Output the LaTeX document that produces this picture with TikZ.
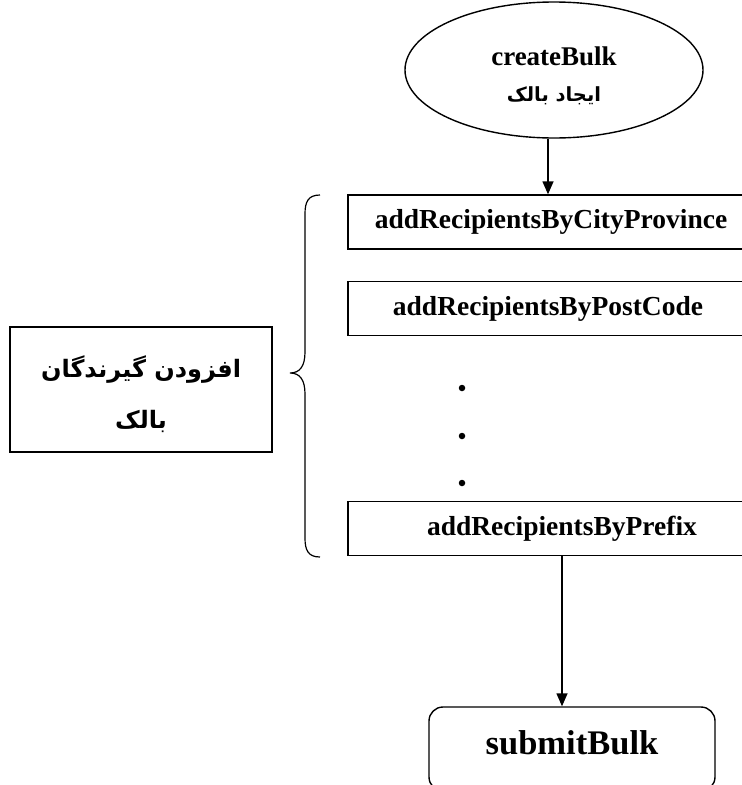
\documentclass[tikz,border=0pt]{standalone}
\usepackage{fontspec}
\setmainfont{Liberation Serif}
\newfontfamily\fafont[Script=Arabic]{DejaVu Sans}
\TeXXeTstate=1
\usetikzlibrary{shapes.geometric,arrows.meta}
\begin{document}
\begin{tikzpicture}[x=1pt,y=-1pt,
  lw/.style={line width=1.4pt},
  fbox/.style={draw,lw,rectangle,inner sep=0pt,minimum height=54pt,font=\bfseries\fontsize{27.5}{30}\selectfont},
  dot/.style={circle,fill,inner sep=0pt,minimum size=6.5pt},
  conn/.style={lw,-{Triangle[width=11pt,length=13pt]}}]
\useasboundingbox (0,0) rectangle (742,785);
\clip (0,0) rectangle (742,785);
\node[draw,lw,ellipse,inner sep=0pt,minimum width=298pt,minimum height=136pt,align=center,font=\bfseries\fontsize{27}{36}\selectfont] (cb) at (554,70) {\rule{0pt}{30pt}createBulk\\{\fafont\bfseries\fontsize{19.5}{22}\selectfont\beginR ایجاد بالک\endR}};
\node[fbox,minimum width=406pt] (b1) at (551,222) {addRecipientsByCityProvince};
\node[fbox,minimum width=400pt] (b2) at (548,308.5) {addRecipientsByPostCode};
\node[fbox,minimum width=428pt] (b3) at (562,528.5) {addRecipientsByPrefix};
\node[dot] (d1) at (462,388) {};
\node[dot] (d2) at (462,436) {};
\node[dot] (d3) at (462,483) {};
\node[draw,lw,rectangle,rounded corners=14pt,minimum width=286pt,minimum height=84pt,inner sep=0pt,font=\bfseries\fontsize{34.5}{38}\selectfont] (sb) at (572,749) {\rule[-12pt]{0pt}{0pt}submitBulk};
\node[draw,lw,rectangle,minimum width=262pt,minimum height=125pt,inner sep=0pt,align=center,font=\fafont\bfseries\fontsize{24}{51}\selectfont] (lb) at (141,389.5) {\rule{0pt}{31pt}\beginR افزودن گیرندگان\endR\\\beginR بالک\endR};
\coordinate (bt) at (320,195);
\coordinate (bb) at (320,557);
\coordinate (bm) at (290,373);
\coordinate (x1) at (548,0);
\coordinate (x2) at (562,0);
\draw[line width=1.2pt] (bt) .. controls (308,195) and (305,202) .. (305,214) -- (305,352) .. controls (305,366) and (300,373) .. (bm) .. controls (300,373) and (305,380) .. (305,394) -- (305,538) .. controls (305,550) and (308,557) .. (bb);
\draw[conn] (cb.south -| x1) -- (b1.north -| x1);
\draw[conn] (b3.south -| x2) -- (sb.north -| x2);
\end{tikzpicture}
\end{document}
